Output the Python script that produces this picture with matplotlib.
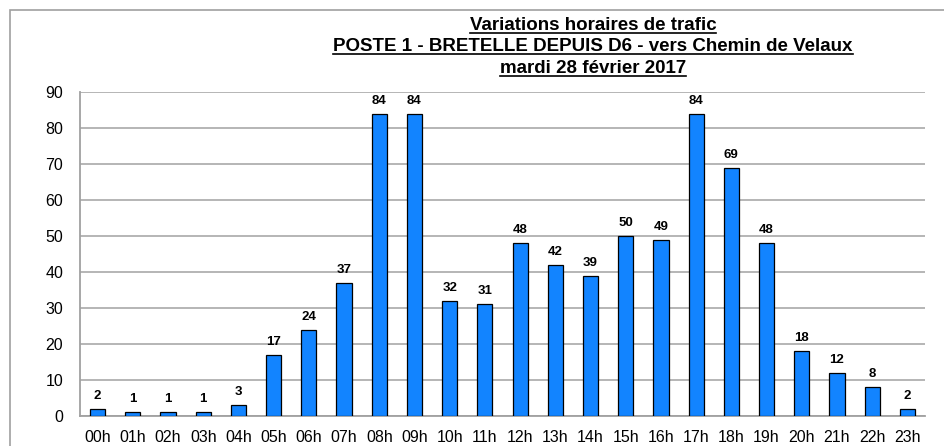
import matplotlib
matplotlib.use("Agg")
import matplotlib.pyplot as plt
from matplotlib.patches import Rectangle
from matplotlib.lines import Line2D

plt.rcParams['font.family'] = ['Liberation Sans', 'DejaVu Sans']

hours = ["00h", "01h", "02h", "03h", "04h", "05h", "06h", "07h", "08h", "09h", "10h", "11h",
         "12h", "13h", "14h", "15h", "16h", "17h", "18h", "19h", "20h", "21h", "22h", "23h"]
values = [2, 1, 1, 1, 3, 17, 24, 37, 84, 84, 32, 31, 48, 42, 39, 50, 49, 84, 69, 48, 18, 12, 8, 2]
title_lines = ["Variations horaires de trafic",
               "POSTE 1 - BRETELLE DEPUIS D6 - vers Chemin de Velaux",
               "mardi 28 février 2017"]
yticks = list(range(0, 91, 10))

W, H = 945, 446
fig = plt.figure(figsize=(W / 100, H / 100), dpi=100)
fig.patch.set_facecolor('white')

# outer border (chart area frame)
fig.add_artist(Rectangle((10 / W, -0.1), 1.2, 1 - 10 / H + 0.1, transform=fig.transFigure,
                         fill=False, edgecolor='#A0A0A0', linewidth=1.2))

ax = fig.add_axes([80 / W, 1 - 416 / H, (925 - 80) / W, (416 - 92) / H])
x = list(range(len(hours)))
ax.bar(x, values, width=0.43, color='#1284FF', edgecolor='black', linewidth=0.9, zorder=3)

ax.set_xlim(-0.5, len(hours) - 0.5)
ax.set_ylim(0, 90)
ax.set_yticks(yticks)
ax.set_xticks(x)
ax.set_xticklabels(hours)
ax.tick_params(axis='both', length=0, labelsize=11.5, colors='black')
ax.tick_params(axis='y', pad=12)
ax.tick_params(axis='x', pad=10)
ax.grid(axis='y', color='#B0B0B0', linewidth=1.3, zorder=0)
for s in ['top', 'right']:
    ax.spines[s].set_visible(False)
ax.spines['left'].set_color('#A0A0A0')
ax.spines['bottom'].set_color('#A0A0A0')
ax.spines['left'].set_linewidth(1.3)
ax.spines['bottom'].set_linewidth(1.3)

for xi, v in zip(x, values):
    ax.annotate(str(v), (xi, v), xytext=(0, 5), textcoords='offset points',
                ha='center', va='bottom', fontsize=9.5, fontweight='bold')

# title with underline
cx = 593 / W
baselines = [30, 51, 73]
texts = []
for line, by in zip(title_lines, baselines):
    t = fig.text(cx, 1 - by / H, line, ha='center', va='baseline', fontsize=13.5, fontweight='bold')
    texts.append(t)
fig.canvas.draw()
r = fig.canvas.get_renderer()
for t, by in zip(texts, baselines):
    bb = t.get_window_extent(r)
    yl = 1 - (by + 3) / H
    fig.add_artist(Line2D([bb.x0 / W, bb.x1 / W], [yl, yl], transform=fig.transFigure,
                          color='black', linewidth=1.2))

fig.savefig('out.png', dpi=100)
